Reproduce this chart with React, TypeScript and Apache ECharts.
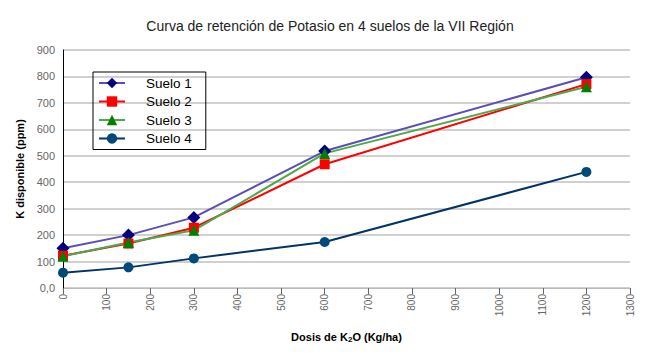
import React, { useEffect, useRef } from "react";
import * as echarts from "echarts";

const dosis = [0, 150, 300, 600, 1200];
const suelo1 = [150, 200, 267, 518, 797];
const suelo2 = [122, 168, 228, 468, 771];
const suelo3 = [120, 172, 218, 509, 761];
const suelo4 = [58, 78, 112, 174, 439];
const seriesNames = ["Suelo 1", "Suelo 2", "Suelo 3", "Suelo 4"];

const FONT = "Liberation Sans, Arial, sans-serif";

export default function App() {
  const ref = useRef<HTMLDivElement>(null);
  useEffect(() => {
    if (!ref.current) return;
    const chart = echarts.init(ref.current, undefined, { renderer: "svg" });
    const pair = (vals: number[]) => dosis.map((d, i) => [d, vals[i]]);
    const mk = (
      name: string,
      vals: number[],
      lineColor: string,
      markColor: string,
      symbol: string,
      size: number
    ) => ({
      name,
      type: "line",
      data: pair(vals),
      symbol,
      symbolSize: size,
      showAllSymbol: true,
      lineStyle: { color: lineColor, width: 2 },
      itemStyle: { color: markColor },
      emphasis: { disabled: true },
    });
    chart.setOption({
      animation: false,
      textStyle: { fontFamily: FONT },
      title: {
        text: "Curva de retención de Potasio en 4 suelos de la VII Región",
        left: "center",
        top: 14,
        textStyle: { fontFamily: FONT, fontSize: 14, fontWeight: "normal", color: "#222" },
      },
      legend: {
        orient: "vertical",
        left: 93,
        top: 72,
        data: seriesNames,
        borderColor: "#000",
        borderWidth: 1,
        padding: [4, 14, 4, 5],
        itemWidth: 26,
        itemHeight: 13,
        itemGap: 4.5,
        textStyle: {
          fontFamily: FONT,
          fontSize: 13.5,
          lineHeight: 13,
          color: "#000",
          padding: [0, 0, 0, 16],
        },
      },
      grid: { left: 63, right: 30, top: 50, bottom: 72, containLabel: false },
      xAxis: {
        type: "value",
        min: 0,
        max: 1300,
        interval: 100,
        name: "{a|Dosis de K}{s|2}{a|O (Kg/ha)}",
        nameLocation: "middle",
        nameGap: 42,
        nameTextStyle: {
          rich: {
            a: { fontFamily: FONT, fontSize: 11, fontWeight: "bold", color: "#000" },
            s: { fontFamily: FONT, fontSize: 8, fontWeight: "bold", color: "#000", padding: [5, 0, 0, 0] },
          },
        },
        axisLine: { show: true, lineStyle: { color: "#bbb", width: 1 } },
        axisTick: { show: true, length: 6, lineStyle: { color: "#666" } },
        axisLabel: {
          rotate: 90,
          fontSize: 10,
          color: "#666",
          fontFamily: FONT,
          margin: 6,
          formatter: (v: number) => String(v),
        },
        splitLine: { show: false },
      },
      yAxis: {
        type: "value",
        min: 0,
        max: 900,
        interval: 100,
        name: "K disponible (ppm)",
        nameLocation: "middle",
        nameGap: 38,
        nameTextStyle: { fontFamily: FONT, fontSize: 11, fontWeight: "bold", color: "#000" },
        axisLine: { show: true, lineStyle: { color: "#000", width: 1 } },
        axisTick: { show: false },
        axisLabel: {
          fontSize: 11,
          color: "#666",
          fontFamily: FONT,
          margin: 8,
          formatter: (v: number) => (v === 0 ? "0,0" : String(v)),
        },
        splitLine: { show: true, lineStyle: { color: "#d0d0d0", width: 2 } },
      },
      series: [
        mk("Suelo 1", suelo1, "#5a4fb4", "#000080", "diamond", 13),
        mk("Suelo 2", suelo2, "#ff0000", "#ff0000", "rect", 10),
        mk("Suelo 3", suelo3, "#4caa4c", "#007f00", "triangle", 11),
        mk("Suelo 4", suelo4, "#003366", "#004a7a", "circle", 10),
      ],
    });
    return () => chart.dispose();
  }, []);
  return <div ref={ref} style={{ width: 660, height: 360, position: "absolute", left: 0, top: 0 }} />;
}
